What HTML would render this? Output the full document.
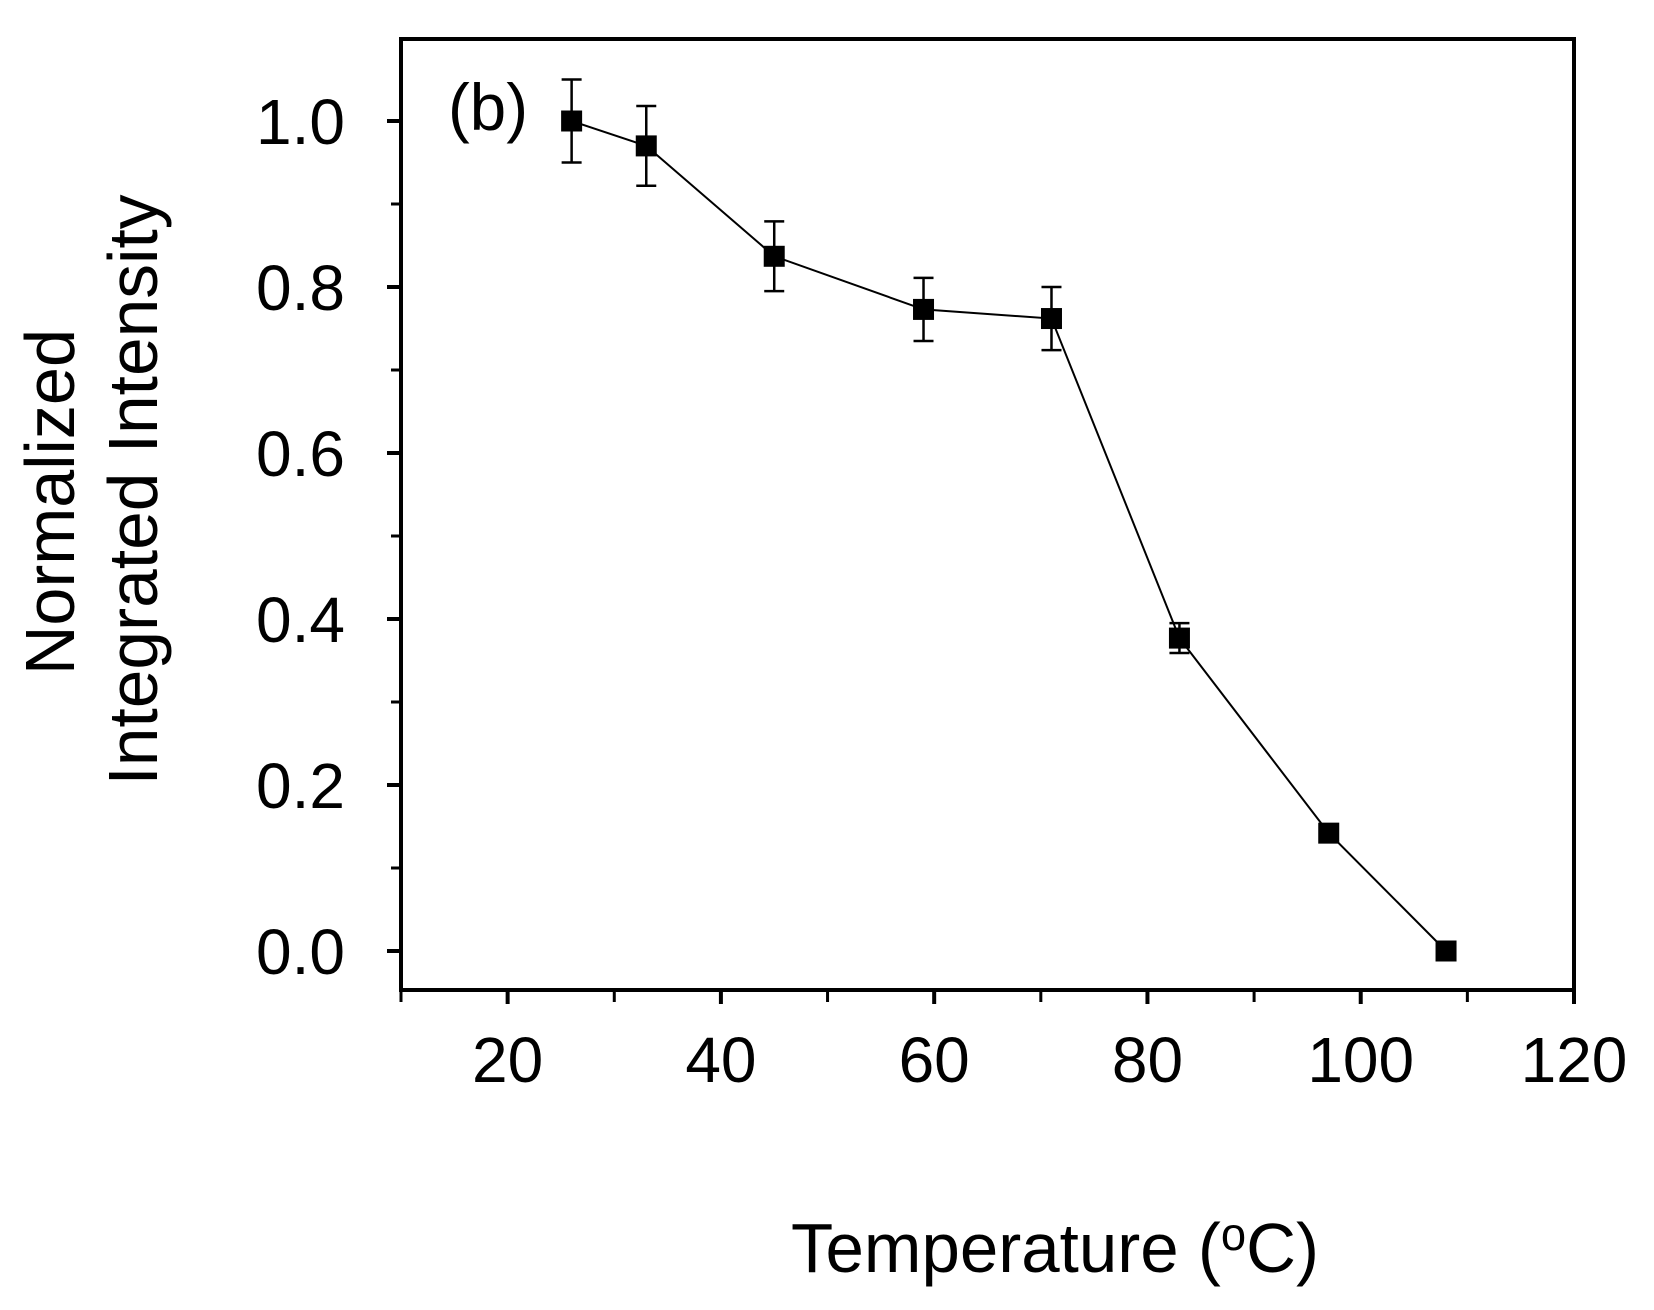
<!DOCTYPE html>
<html><head><meta charset="utf-8"><style>
html,body{margin:0;padding:0;background:#fff;}
svg{display:block;font-family:"Liberation Sans",Arial,sans-serif;}
</style></head><body>
<svg id="chart" width="1654" height="1310" viewBox="0 0 1654 1310" xmlns="http://www.w3.org/2000/svg">
<rect width="1654" height="1310" fill="#fff"/>
<g id="axes"></g>
<g id="marks"></g>
<text x="448" y="130" font-size="66" textLength="80" lengthAdjust="spacingAndGlyphs">(b)</text>
<text x="791" y="1272" font-size="70" textLength="528" lengthAdjust="spacingAndGlyphs">Temperature (<tspan font-size="46" dy="-22">o</tspan><tspan dy="22">C</tspan>)</text>
<text transform="translate(74,502) rotate(-90)" text-anchor="middle" font-size="70" textLength="346" lengthAdjust="spacingAndGlyphs">Normalized</text>
<text transform="translate(157,490) rotate(-90)" text-anchor="middle" font-size="70" textLength="591" lengthAdjust="spacingAndGlyphs">Integrated Intensity</text>
</svg>
<script>
const temps = [26, 33, 45, 59, 71, 83, 97, 108];
const intensity = [1.0, 0.97, 0.837, 0.773, 0.762, 0.377, 0.142, 0.0];
const errors = [0.05, 0.048, 0.042, 0.038, 0.038, 0.018, 0, 0];
const xTicks = [20, 40, 60, 80, 100, 120];
const xMinor = [10, 30, 50, 70, 90, 110];
const yTicks = [0.0, 0.2, 0.4, 0.6, 0.8, 1.0];
const yMinor = [0.1, 0.3, 0.5, 0.7, 0.9];
const yTickLabels = ["0.0", "0.2", "0.4", "0.6", "0.8", "1.0"];

const NS = "http://www.w3.org/2000/svg";
const L = 401, R = 1574, T = 39, B = 990;
const xMin = 10, xMax = 120;
function sx(v){ return L + (v - xMin) * (R - L) / (xMax - xMin); }
function sy(v){ return 951 - 830 * v; }
function mk(tag, attrs, parent){
  const e = document.createElementNS(NS, tag);
  for (const k in attrs) e.setAttribute(k, attrs[k]);
  parent.appendChild(e); return e;
}
const axes = document.getElementById('axes');
const marks = document.getElementById('marks');

const frame = mk('rect', {x:L, y:T, width:R-L, height:B-T, fill:'none', stroke:'#000', 'stroke-width':4}, axes);



xTicks.forEach(v => {
  const t = mk('line', {x1:sx(v), x2:sx(v), y1:B, y2:B+14, stroke:'#000', 'stroke-width':4}, axes);
  
  
  const lb = mk('text', {x:sx(v), y:1082, 'text-anchor':'middle', 'font-size':64}, axes);
  lb.textContent = String(v);
  
  
});
xMinor.forEach(v => {
  const t = mk('line', {x1:sx(v), x2:sx(v), y1:B, y2:B+12, stroke:'#000', 'stroke-width':3}, axes);
  
  
});
yTicks.forEach((v, i) => {
  const t = mk('line', {x1:L-14, x2:L, y1:sy(v), y2:sy(v), stroke:'#000', 'stroke-width':4}, axes);
  
  
  const lb = mk('text', {x:345, y:sy(v)+23, 'text-anchor':'end', 'font-size':64}, axes);
  lb.textContent = yTickLabels[i];
  
  
});
yMinor.forEach(v => {
  const t = mk('line', {x1:L-10, x2:L, y1:sy(v), y2:sy(v), stroke:'#000', 'stroke-width':3}, axes);
  
  
});

const pts = temps.map((t, i) => sx(t) + ',' + sy(intensity[i])).join(' ');
const line = mk('polyline', {points:pts, fill:'none', stroke:'#000', 'stroke-width':2}, marks);



temps.forEach((t, i) => {
  const x = sx(t), y = sy(intensity[i]);
  if (errors[i] > 0) {
    const g = mk('g', {stroke:'#000', 'stroke-width':2.5}, marks);
    
    
    const y1 = sy(intensity[i] + errors[i]), y2 = sy(intensity[i] - errors[i]);
    mk('line', {x1:x, x2:x, y1:y1, y2:y2}, g);
    mk('line', {x1:x-10, x2:x+10, y1:y1, y2:y1}, g);
    mk('line', {x1:x-10, x2:x+10, y1:y2, y2:y2}, g);
  }
  const m = mk('rect', {x:x-10.5, y:y-10.5, width:21, height:21, fill:'#000'}, marks);
  
  
});
</script>
</body></html>
